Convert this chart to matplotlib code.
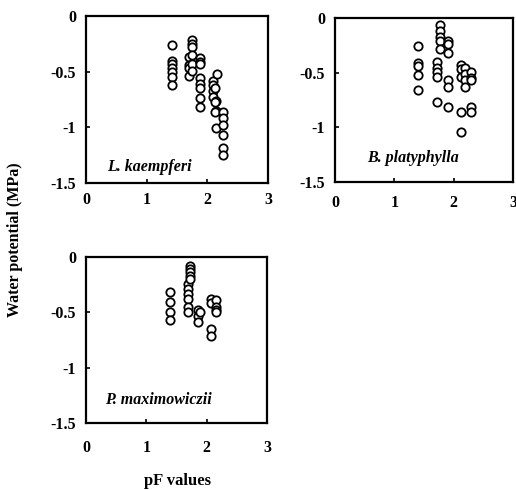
import matplotlib
matplotlib.use("Agg")
import matplotlib.pyplot as plt

# L. kaempferi
lk_x = [1.41]*7 + [1.70]*4 + [1.74]*6 + [1.88]*8 + [2.10]*4 + [2.15]*3 + [2.16] + [2.13]*3 + [2.26]*6
lk_y = [-0.26, -0.40, -0.43, -0.47, -0.50, -0.55, -0.62,
        -0.37, -0.44, -0.47, -0.54,
        -0.22, -0.25, -0.28, -0.35, -0.43, -0.49,
        -0.38, -0.41, -0.43, -0.56, -0.61, -0.65, -0.74, -0.82,
        -0.58, -0.62, -0.67, -0.73,
        -0.76, -0.85, -1.01,
        -0.52,
        -0.65, -0.77, -0.86,
        -0.86, -0.92, -0.98, -1.07, -1.19, -1.25]

# B. platyphylla
bp_x = [1.40]*5 + [1.72]*5 + [1.77]*5 + [1.91]*6 + [2.12]*5 + [2.19]*4 + [2.30]*5
bp_y = [-0.26, -0.41, -0.44, -0.52, -0.66,
        -0.40, -0.46, -0.49, -0.54, -0.77,
        -0.06, -0.12, -0.17, -0.21, -0.28,
        -0.21, -0.24, -0.32, -0.57, -0.63, -0.81,
        -0.43, -0.47, -0.54, -0.86, -1.04,
        -0.46, -0.51, -0.57, -0.63,
        -0.49, -0.55, -0.57, -0.81, -0.86]

# P. maximowiczii
pm_x = [1.39]*4 + [1.69]*6 + [1.73]*5 + [1.86]*3 + [1.89] + [2.08]*4 + [2.15]*4
pm_y = [-0.32, -0.41, -0.50, -0.57,
        -0.24, -0.29, -0.33, -0.38, -0.45, -0.50,
        -0.08, -0.11, -0.14, -0.17, -0.20,
        -0.48, -0.53, -0.59,
        -0.50,
        -0.38, -0.42, -0.65, -0.71,
        -0.39, -0.45, -0.48, -0.50]

species = ["L. kaempferi", "B. platyphylla", "P. maximowiczii"]
x_ticks = [0, 1, 2, 3]
y_ticks = [0, -0.5, -1, -1.5]
y_tick_labels = ["0", "-0.5", "-1", "-1.5"]

plt.rcParams['font.family'] = ['Liberation Serif', 'DejaVu Serif']
fig = plt.figure(figsize=(5.16, 4.90), dpi=100)

rects = [
    [86/516, 1-183/490, 182/516, 167/490],
    [335/516, 1-182/490, 178/516, 164/490],
    [86/516, 1-423/490, 181/516, 166/490],
]
xpads = [6.5, 9.5, 12]
data = [(lk_x, lk_y), (bp_x, bp_y), (pm_x, pm_y)]
label_pos = [(0.35, -1.36), (0.54, -1.28), (0.31, -1.29)]

for rect, (xs, ys), name, lp, xp in zip(rects, data, species, label_pos, xpads):
    ax = fig.add_axes(rect)
    ax.plot(xs, ys, linestyle='none', marker='o', markersize=6,
            markerfacecolor='white', markeredgecolor='black', markeredgewidth=1.3)
    ax.set_xlim(0, 3)
    ax.set_ylim(-1.5, 0)
    ax.set_xticks(x_ticks)
    ax.set_xticklabels([str(t) for t in x_ticks])
    ax.set_yticks(y_ticks)
    ax.set_yticklabels(y_tick_labels)
    ax.tick_params(direction='in', length=3, width=1.2, labelsize=11.5)
    ax.tick_params(axis='y', pad=7)
    ax.tick_params(axis='x', pad=xp)
    for lab in ax.get_xticklabels() + ax.get_yticklabels():
        lab.set_fontweight('bold')
    for sp in ax.spines.values():
        sp.set_linewidth(1.6)
    ax.text(lp[0], lp[1], name, fontsize=11.5, fontstyle='italic', fontweight='bold',
            va='center', ha='left')

fig.text(15/516, 1-240/490, "Water potential (MPa)", rotation=90, va='center', ha='center',
         fontsize=11.5, fontweight='bold')
fig.text(177/516, 1-481/490, "pF values", va='center', ha='center',
         fontsize=12, fontweight='bold')

fig.savefig("out.png", dpi=100)
